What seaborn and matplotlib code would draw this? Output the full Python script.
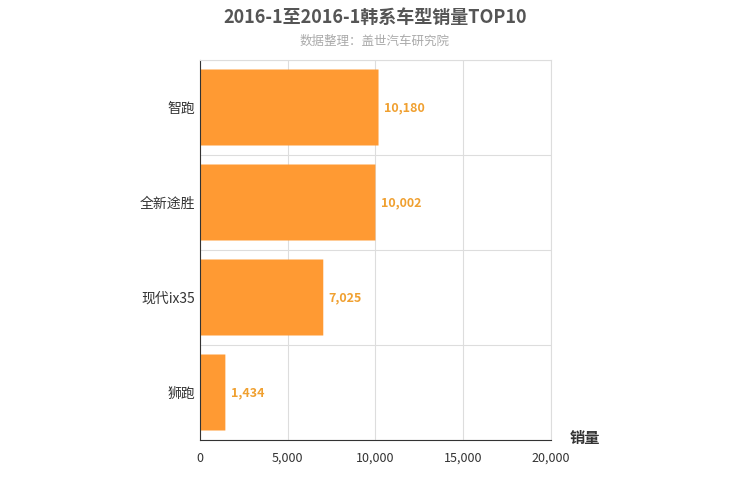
import matplotlib.pyplot as plt
import seaborn as sns
import pandas as pd
from matplotlib.patches import FancyBboxPatch

models = ["智跑", "全新途胜", "现代ix35", "狮跑"]
sales = [10180, 10002, 7025, 1434]

sns.set_style("white")
plt.rcParams['font.family'] = ['Noto Sans CJK SC', 'DejaVu Sans']

df = pd.DataFrame({"model": models, "sales": sales})
fig = plt.figure(figsize=(7.5, 5), dpi=100)
ax = fig.add_axes([0.267, 0.12, 0.467, 0.76])
sns.barplot(data=df, y="model", x="sales", color="#FF9933", width=0.8, ax=ax, saturation=1)

# swap plain bars for rounded ones
for p in list(ax.patches):
    x, y, w, h = p.get_x(), p.get_y(), p.get_width(), p.get_height()
    p.remove()
    ax.add_patch(FancyBboxPatch((x, y), w, h, boxstyle="round,pad=0,rounding_size=0.1",
                                mutation_aspect=1 / 1000 * 0.9 * 0 + 1, fc="#FF9A33", ec="none"))
for i, v in enumerate(sales):
    ax.text(v + 300, i, f"{v:,}", va="center", ha="left", color="#F0A030", fontsize=9, fontweight="bold")

ax.set_xlim(0, 20000)
ax.set_ylim(3.5, -0.5)
ax.set_xticks([0, 5000, 10000, 15000, 20000])
ax.set_xticklabels(["0", "5,000", "10,000", "15,000", "20,000"], fontsize=9, color="#333333")
ax.set_yticks(range(4))
ax.set_yticklabels(models, fontsize=10, color="#333333")
ax.set_yticks([-0.5, 0.5, 1.5, 2.5, 3.5], minor=True)
ax.tick_params(axis="y", which="major", length=0)
ax.tick_params(axis="y", which="minor", length=5, color="#333333")
ax.tick_params(axis="x", length=5, color="#333333")
ax.grid(True, axis="x", color="#dddddd")
ax.grid(True, axis="y", which="minor", color="#dddddd")
ax.set_axisbelow(True)
for s in ["top", "right"]:
    ax.spines[s].set_color("#dddddd")
ax.spines["left"].set_color("#333333")
ax.spines["bottom"].set_color("#333333")
ax.set_xlabel("")
ax.set_ylabel("")
fig.text(0.78, 0.115, "销量", fontsize=11, fontweight="bold", color="#333333", ha="center")
fig.text(0.5, 0.955, "2016-1至2016-1韩系车型销量TOP10", fontsize=13, fontweight="bold",
         color="#555555", ha="center")
fig.text(0.5, 0.91, "数据整理：盖世汽车研究院", fontsize=9, color="#aaaaaa", ha="center")
fig.savefig("out.png", dpi=100)
